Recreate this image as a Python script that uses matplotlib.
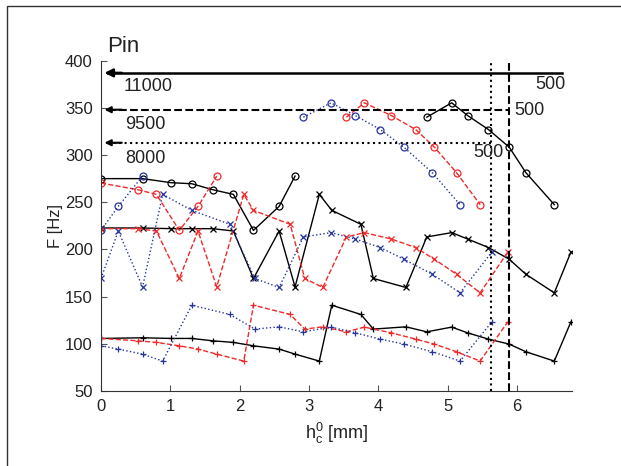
import numpy as np
import matplotlib.pyplot as plt
from matplotlib.patches import Rectangle

plt.rcParams['font.family'] = ['Liberation Sans', 'DejaVu Sans']
plt.rcParams['mathtext.fontset'] = 'custom'
plt.rcParams['mathtext.rm'] = 'Liberation Sans'

nan = np.nan

# 11000 rpm (black, solid)
h_11000 = [0, 0.60, 1.01, 1.31, 1.61, 1.91, 2.20, 2.57, 2.80, 3.15, 3.33,
           3.75, 3.93, 4.40, 4.70, 5.06, 5.29, 5.59, 5.89, 6.13, 6.54, 6.78]
f1_11000 = [105.7, 106.4, 105.7, 105.7, 103.2, 101.5, 97.9, 94.4, 89.1, 81.7, 140.9,
            131.1, 115.6, 118.0, 112.7, 117.7, 111.6, 105.0, 99.7, 91.6, 81.7, 123.3]
f2_11000 = [222.7, 222.7, 222.0, 222.0, 222.0, 219.5, 169.2, 219.5, 160.3, 258.3, 241.4,
            226.6, 169.2, 159.7, 213.2, 217.8, 211.0, 202.0, 189.6, 173.7, 154.0, 197.3]
f3_11000 = [275.0, 275.0, 270.7, 269.6, 263.3, 258.3, 220.2, 245.6, 277.7, nan, nan,
            nan, nan, nan, 340.1, 355.3, 341.8, 327.0, 308.3, 281.3, 247.4, nan]

# 9500 rpm (red, dashed)
h_9500 = [0, 0.53, 0.80, 1.13, 1.40, 1.67, 2.06, 2.20, 2.73, 2.94, 3.20,
          3.54, 3.80, 4.19, 4.54, 4.81, 5.13, 5.47, 5.87]
f1_9500 = [105.7, 103.2, 101.5, 97.9, 94.4, 89.1, 81.7, 140.9, 131.1, 115.6, 118.0,
           112.7, 117.7, 111.6, 105.0, 99.7, 91.6, 81.7, 123.3]
f2_9500 = [222.0, 222.0, 219.5, 169.2, 219.5, 160.3, 258.3, 241.4, 226.6, 169.2, 159.7,
           213.2, 217.8, 211.0, 202.0, 189.6, 173.7, 154.0, 197.3]
f3_9500 = [270.3, 263.3, 258.3, 220.2, 245.6, 277.7, nan, nan, nan, nan, nan,
           340.1, 355.3, 341.8, 327.0, 308.3, 281.3, 247.4, nan]

# 8000 rpm (blue, dotted)
h_8000 = [0, 0.25, 0.60, 0.89, 1.31, 1.86, 2.22, 2.57, 2.92, 3.32,
          3.67, 4.03, 4.37, 4.78, 5.18, 5.64]
f1_8000 = [97.9, 94.4, 89.1, 81.7, 140.9, 131.1, 115.6, 118.0, 112.7, 117.7,
           111.6, 105.0, 99.7, 91.6, 81.7, 123.3]
f2_8000 = [169.2, 219.5, 160.3, 258.3, 241.4, 226.6, 169.2, 159.7, 213.2, 217.8,
           211.0, 202.0, 189.6, 173.7, 154.0, 197.3]
f3_8000 = [220.2, 245.6, 277.7, nan, nan, nan, nan, nan, 340.1, 355.3,
           341.8, 327.0, 308.3, 281.3, 247.4, nan]

# input frequency levels and crossing points
pin_f = [387.0, 348.0, 313.0]
pin_end = [6.65, 5.89, 5.63]
pin_rpm = ['11000', '9500', '8000']
cross_h = [5.63, 5.89]

RED = '#ee2a2a'
BLUE = '#26359e'

fig = plt.figure(figsize=(6.21, 4.66), dpi=100)
fig.patches.append(Rectangle((7 / 621, -0.1), 1.2, 1 - 6 / 466 + 0.1,
                             transform=fig.transFigure, fill=False,
                             edgecolor='#333333', lw=1.0))
ax = fig.add_axes([0.1626, 0.1609, 0.759, 0.709])

series = [
    (h_11000, [f1_11000, f2_11000, f3_11000], 'k', '-'),
    (h_9500, [f1_9500, f2_9500, f3_9500], RED, '--'),
    (h_8000, [f1_8000, f2_8000, f3_8000], BLUE, ':'),
]
markers = ['+', 'x', 'o']
for h, modes, col, ls in series:
    for f, m in zip(modes, markers):
        ax.plot(h, f, color=col, ls=ls, lw=1.0, marker=m, ms=5,
                mfc='none', mew=0.9)

# horizontal input lines with arrowheads pointing to the axis
styles = ['-', '--', ':']
widths = [1.8, 1.5, 1.5]
for f, x1, ls, lw in zip(pin_f, pin_end, styles, widths):
    ax.plot([0.1, x1], [f, f], color='k', ls=ls, lw=lw)
    ax.annotate('', xy=(0.05, f), xytext=(0.3, f),
                arrowprops=dict(arrowstyle='-|>', color='k', lw=lw,
                                mutation_scale=12 if ls == '-' else 9,
                                shrinkA=0, shrinkB=0))

# vertical crossing lines
ax.plot([cross_h[0], cross_h[0]], [50, 400], color='k', ls=':', lw=1.5)
ax.plot([cross_h[1], cross_h[1]], [50, 400], color='k', ls='--', lw=1.5)

tkw = dict(fontsize=13, color='#222222', va='center')
ax.text(0.32, 372.5, pin_rpm[0], **tkw)
ax.text(0.35, 332.0, pin_rpm[1], **tkw)
ax.text(0.35, 296.5, pin_rpm[2], **tkw)
ax.text(6.26, 375.0, '500', **tkw)
ax.text(5.97, 347.0, '500', **tkw)
ax.text(5.37, 303.0, '500', **tkw)
ax.text(0.09, 404, 'Pin', fontsize=16, color='#222222', va='bottom', clip_on=False)

ax.set_xlim(0, 6.8)
ax.set_ylim(50, 400)
ax.set_xticks(range(0, 7))
ax.set_yticks(range(50, 401, 50))
ax.spines['top'].set_visible(False)
ax.spines['right'].set_visible(False)
ax.spines['left'].set_color('#333333')
ax.spines['bottom'].set_color('#333333')
ax.tick_params(direction='in', length=4, width=0.8, color='#555555',
               labelsize=12, labelcolor='#222222', pad=6)
ax.set_xlabel(r'$\mathrm{h_c^0}$ [mm]', fontsize=13, color='#222222', labelpad=5)
ax.set_ylabel('F [Hz]', fontsize=12, color='#222222')
ax.yaxis.set_label_coords(-0.08, 0.5)

fig.savefig('out.png', dpi=100)
